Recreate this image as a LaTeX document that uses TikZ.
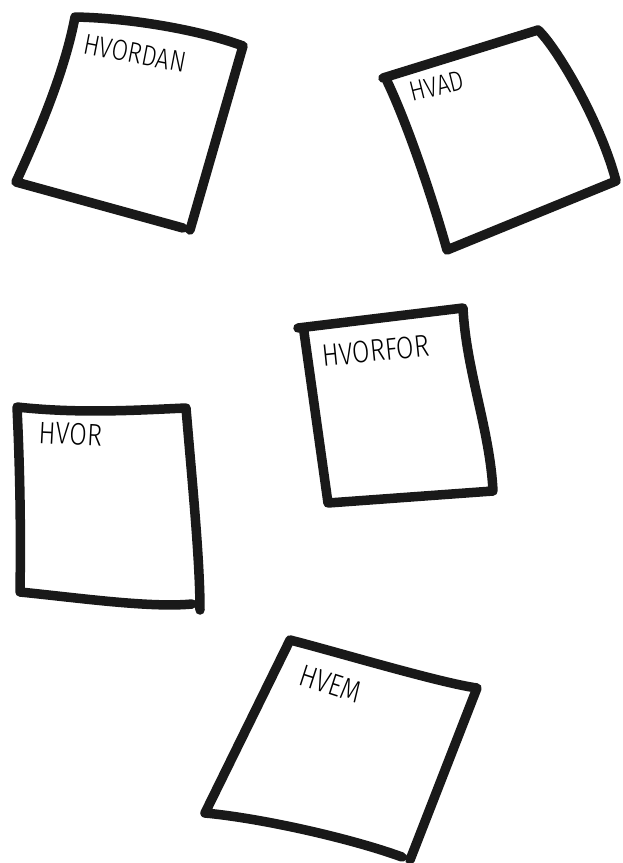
\documentclass[tikz,border=0pt]{standalone}
\usepackage{fontspec}
\newfontfamily\handfont{Fira Sans}[UprightFont=* Light]
\usepackage{tikz}
\newcommand{\handtext}[1]{\scalebox{.82}[1]{#1}}

\begin{document}
\begin{tikzpicture}[x=1pt,y=-1pt,
    notepen/.style={line width=9.5pt,line cap=round,line join=round,black!90},
    notetext/.style={font=\handfont\fontsize{31}{31}\selectfont,inner sep=0pt,anchor=base west}]
    \useasboundingbox (0,0) rectangle (623,863);
    % HVORDAN
    \draw[notepen] (190,230) -- (243,46) .. controls (200,30) and (130,18) .. (75,17)
      .. controls (65,70) and (40,130) .. (16,182) -- (183,228);
    \node[notetext,rotate=-11,font=\handfont\fontsize{29}{29}\selectfont] (hvordan) at (82,53) {\handtext{HVORDAN}};
    % HVAD
    \draw[notepen] (383,78) -- (538,30) .. controls (555,45) and (600,120) .. (616,181)
      -- (447,250) .. controls (433,200) and (408,125) .. (387,81);
    \node[notetext,rotate=14,font=\handfont\fontsize{28}{28}\selectfont] (hvad) at (412,102) {\handtext{HVAD}};
    % HVORFOR
    \draw[notepen] (298,328) -- (463,308) .. controls (466,370) and (490,430) .. (493,491)
      -- (328,503) -- (304,332);
    \node[notetext,rotate=6] (hvorfor) at (323,367) {\handtext{HVORFOR}};
    % HVOR
    \draw[notepen] (200,610) .. controls (200,560) and (192,480) .. (186,408)
      .. controls (140,410) and (80,414) .. (17,407) .. controls (20,470) and (21,530) .. (20,592)
      .. controls (80,598) and (150,608) .. (192,604);
    \node[notetext,rotate=-3] (hvor) at (38,443) {\handtext{HVOR}};
    % HVEM
    \draw[notepen] (410,860) -- (477,688) .. controls (440,683) and (330,650) .. (290,640)
      -- (205,813) .. controls (260,818) and (350,838) .. (402,857);
    \node[notetext,rotate=-18] (hvem) at (297,684) {\handtext{HVEM}};
\end{tikzpicture}
\end{document}
